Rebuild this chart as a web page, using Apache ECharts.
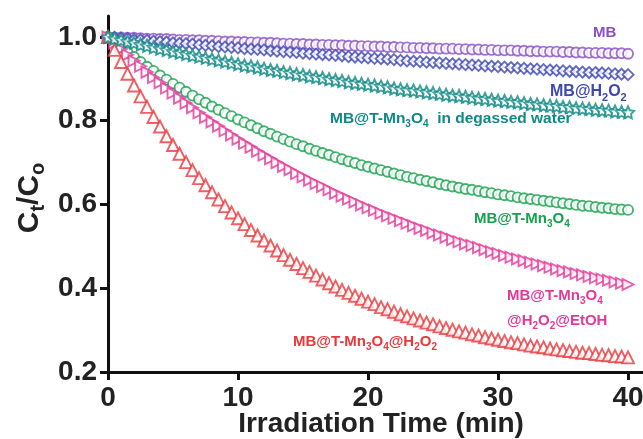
<!DOCTYPE html>
<html>
<head>
<meta charset="utf-8">
<script src="https://cdn.jsdelivr.net/npm/echarts@6/dist/echarts.min.js"></script>
<style>
html,body{margin:0;padding:0;background:#fff;}
#c{width:643px;height:439px;}
</style>
</head>
<body>
<div id="c"></div>
<script>
// Irradiation time (min)
const timeMin = [0,0.5,1,1.5,2,2.5,3,3.5,4,4.5,5,5.5,6,6.5,7,7.5,8,8.5,9,9.5,
10,10.5,11,11.5,12,12.5,13,13.5,14,14.5,15,15.5,16,16.5,17,17.5,18,18.5,19,19.5,
20,20.5,21,21.5,22,22.5,23,23.5,24,24.5,25,25.5,26,26.5,27,27.5,28,28.5,29,29.5,
30,30.5,31,31.5,32,32.5,33,33.5,34,34.5,35,35.5,36,36.5,37,37.5,38,38.5,39,39.5,40];

// C_t/C_o series
const mb = [1.000,0.999,0.999,0.998,0.998,0.997,0.996,0.996,0.995,0.995,
0.994,0.993,0.993,0.992,0.992,0.991,0.991,0.990,0.989,0.989,
0.988,0.988,0.987,0.987,0.986,0.986,0.985,0.984,0.984,0.983,
0.983,0.982,0.982,0.981,0.981,0.980,0.980,0.979,0.979,0.978,
0.978,0.977,0.977,0.976,0.976,0.975,0.975,0.974,0.974,0.973,
0.973,0.972,0.972,0.972,0.971,0.971,0.970,0.970,0.969,0.969,
0.968,0.968,0.968,0.967,0.967,0.966,0.966,0.965,0.965,0.965,
0.964,0.964,0.963,0.963,0.962,0.962,0.962,0.961,0.961,0.961,
0.960];

const mbH2O2 = [1.000,0.999,0.997,0.996,0.994,0.993,0.992,0.990,0.989,0.988,
0.986,0.985,0.984,0.983,0.981,0.980,0.979,0.977,0.976,0.975,
0.974,0.972,0.971,0.970,0.969,0.967,0.966,0.965,0.964,0.963,
0.961,0.960,0.959,0.958,0.957,0.956,0.955,0.953,0.952,0.951,
0.950,0.949,0.948,0.947,0.946,0.944,0.943,0.942,0.941,0.940,
0.939,0.938,0.937,0.936,0.935,0.934,0.933,0.932,0.931,0.930,
0.929,0.928,0.927,0.926,0.925,0.924,0.923,0.922,0.921,0.920,
0.919,0.918,0.917,0.916,0.915,0.915,0.914,0.913,0.912,0.911,
0.910];

const degassed = [1.000,0.996,0.993,0.989,0.986,0.982,0.979,0.975,0.972,0.969,
0.965,0.962,0.959,0.956,0.953,0.950,0.947,0.944,0.941,0.938,
0.935,0.932,0.930,0.927,0.924,0.921,0.919,0.916,0.914,0.911,
0.909,0.906,0.904,0.902,0.899,0.897,0.895,0.892,0.890,0.888,
0.886,0.884,0.882,0.880,0.877,0.875,0.873,0.872,0.870,0.868,
0.866,0.864,0.862,0.860,0.859,0.857,0.855,0.853,0.852,0.850,
0.848,0.847,0.845,0.844,0.842,0.840,0.839,0.837,0.836,0.835,
0.833,0.832,0.830,0.829,0.828,0.826,0.825,0.824,0.822,0.821,
0.820];

const tMn3O4 = [1.000,0.987,0.975,0.963,0.952,0.940,0.929,0.919,0.908,0.898,
0.888,0.879,0.869,0.860,0.851,0.843,0.834,0.826,0.818,0.811,
0.803,0.796,0.789,0.782,0.775,0.769,0.762,0.756,0.750,0.744,
0.739,0.733,0.728,0.723,0.718,0.713,0.708,0.703,0.699,0.694,
0.690,0.686,0.682,0.678,0.674,0.670,0.666,0.663,0.659,0.656,
0.653,0.649,0.646,0.643,0.640,0.637,0.635,0.632,0.629,0.627,
0.624,0.622,0.620,0.617,0.615,0.613,0.611,0.609,0.607,0.605,
0.603,0.601,0.599,0.597,0.596,0.594,0.592,0.591,0.589,0.588,
0.587];

const etoh = [1.000,0.985,0.971,0.957,0.943,0.930,0.916,0.903,0.891,0.878,
0.866,0.854,0.842,0.831,0.819,0.808,0.797,0.787,0.776,0.766,
0.756,0.746,0.737,0.727,0.718,0.709,0.700,0.691,0.683,0.674,
0.666,0.658,0.650,0.643,0.635,0.627,0.620,0.613,0.606,0.599,
0.592,0.586,0.579,0.573,0.567,0.561,0.555,0.549,0.543,0.538,
0.532,0.527,0.522,0.516,0.511,0.506,0.502,0.497,0.492,0.487,
0.483,0.478,0.474,0.470,0.466,0.462,0.458,0.454,0.450,0.446,
0.442,0.439,0.435,0.432,0.428,0.425,0.422,0.419,0.415,0.412,
0.409];

const h2o2 = [1.000,0.969,0.940,0.912,0.884,0.858,0.833,0.809,0.786,0.763,
0.742,0.721,0.701,0.682,0.663,0.646,0.629,0.612,0.596,0.581,
0.567,0.553,0.539,0.526,0.514,0.502,0.490,0.479,0.468,0.458,
0.448,0.439,0.430,0.421,0.412,0.404,0.396,0.389,0.382,0.375,
0.368,0.362,0.355,0.350,0.344,0.338,0.333,0.328,0.323,0.318,
0.314,0.309,0.305,0.301,0.297,0.294,0.290,0.287,0.283,0.280,
0.277,0.274,0.271,0.269,0.266,0.263,0.261,0.259,0.256,0.254,
0.252,0.250,0.248,0.246,0.245,0.243,0.241,0.240,0.238,0.237,
0.235];

const xTicks = [0, 10, 20, 30, 40];
const yTicks = [0.2, 0.4, 0.6, 0.8, 1.0];

const FONT = '"Liberation Sans", Arial, Helvetica, sans-serif';
const C_MB = '#8a4fc6', C_H = '#3f48b0', C_DG = '#0f8a86', C_T = '#17a04e', C_E = '#e5389a', C_R = '#e8383c';

const STAR = 'path://M0,-10L2.94,-4.05L9.51,-3.09L4.76,1.55L5.88,8.09L0,5.2L-5.88,8.09L-4.76,1.55L-9.51,-3.09L-2.94,-4.05Z';

function pairs(ys){ return timeMin.map((t,i)=>[t, ys[i]]); }
function sc(name, ys, color, symbol, size, rotate){
  return {
    name, type:'scatter', data: pairs(ys), symbol, symbolSize: size, symbolRotate: rotate||0,
    itemStyle:{color:'#fff', borderColor:color, borderWidth:1.9},
    emphasis:{disabled:true}, silent:true, z:2
  };
}

function richFor(color, size){
  return {
    n:{fontSize:size, fontWeight:'bold', fontFamily:FONT, fill:color, lineHeight:size+4},
    s:{fontSize:Math.round(size*0.66), fontWeight:'bold', fontFamily:FONT, fill:color, padding:[Math.round(size*0.7),0,0,0], lineHeight:size+4}
  };
}
function lbl(text, x, y, color, size){
  return {type:'text', x, y, silent:true, z:10,
    style:{text, rich:richFor(color,size), fill:color, font:'bold '+size+'px '+FONT, textAlign:'left', textVerticalAlign:'middle'}};
}

const chart = echarts.init(document.getElementById('c'), null, {renderer:'canvas'});
chart.setOption({
  animation:false,
  backgroundColor:'#fff',
  grid:{left:108, right:0, top:16, bottom:67, containLabel:false, outerBoundsMode:'none'},
  xAxis:{
    type:'value', min:0, max:41.15, interval:10,
    axisLine:{show:true, lineStyle:{color:'#111', width:3}},
    axisTick:{show:true, length:8, inside:false, customValues:xTicks, lineStyle:{color:'#111', width:3}},
    axisLabel:{customValues:xTicks, fontSize:28, fontWeight:'bold', fontFamily:FONT, color:'#222', margin:12},
    splitLine:{show:false}
  },
  yAxis:{
    type:'value', min:0.2, max:1.05, interval:0.2,
    axisLine:{show:true, lineStyle:{color:'#111', width:3}},
    axisTick:{show:true, length:8, inside:false, customValues:yTicks, lineStyle:{color:'#111', width:3}},
    axisLabel:{customValues:yTicks, fontSize:28, fontWeight:'bold', fontFamily:FONT, color:'#222', margin:11,
      formatter:v=>v.toFixed(1)},
    splitLine:{show:false}
  },
  series:[
    sc('MB', mb, C_MB, 'circle', 10),
    sc('MB@H2O2', mbH2O2, C_H, 'diamond', [11,11]),
    sc('MB@T-Mn3O4', tMn3O4, C_T, 'circle', 10),
    sc('MB@T-Mn3O4@H2O2@EtOH', etoh, C_E, 'triangle', 11, -90),
    sc('MB@T-Mn3O4@H2O2', h2o2, C_R, 'triangle', 12),
    sc('MB@T-Mn3O4 in degassed water', degassed, C_DG, STAR, 12)
  ],
  graphic:[
    lbl('{n|MB}', 593, 33, C_MB, 15),
    lbl('{n|MB@H}{s|2}{n|O}{s|2}', 550, 92, C_H, 16),
    lbl('{n|MB@T-Mn}{s|3}{n|O}{s|4}{n|  in degassed water}', 330, 119, C_DG, 15.5),
    lbl('{n|MB@T-Mn}{s|3}{n|O}{s|4}', 474, 219, C_T, 15),
    lbl('{n|MB@T-Mn}{s|3}{n|O}{s|4}', 507, 296, C_E, 15),
    lbl('{n|@H}{s|2}{n|O}{s|2}{n|@EtOH}', 507, 321, C_E, 15),
    lbl('{n|MB@T-Mn}{s|3}{n|O}{s|4}{n|@H}{s|2}{n|O}{s|2}', 293, 342, C_R, 15),
    {type:'text', x:381, y:424, silent:true,
      style:{text:'Irradiation Time (min)', font:'bold 28px '+FONT, fill:'#222', textAlign:'center', textVerticalAlign:'middle'}},
    {type:'text', x:30, y:198, rotation:Math.PI/2, silent:true,
      style:{text:'{c|C}{s|t}{c|/C}{s|o}', textAlign:'center', textVerticalAlign:'middle', fill:'#222',
        rich:{
          c:{fontSize:30, fontWeight:'bold', fontFamily:FONT, fill:'#222', lineHeight:34},
          s:{fontSize:20, fontWeight:'bold', fontFamily:FONT, fill:'#222', padding:[16,0,0,0], lineHeight:34}
        }}}
  ]
});
</script>
</body>
</html>
